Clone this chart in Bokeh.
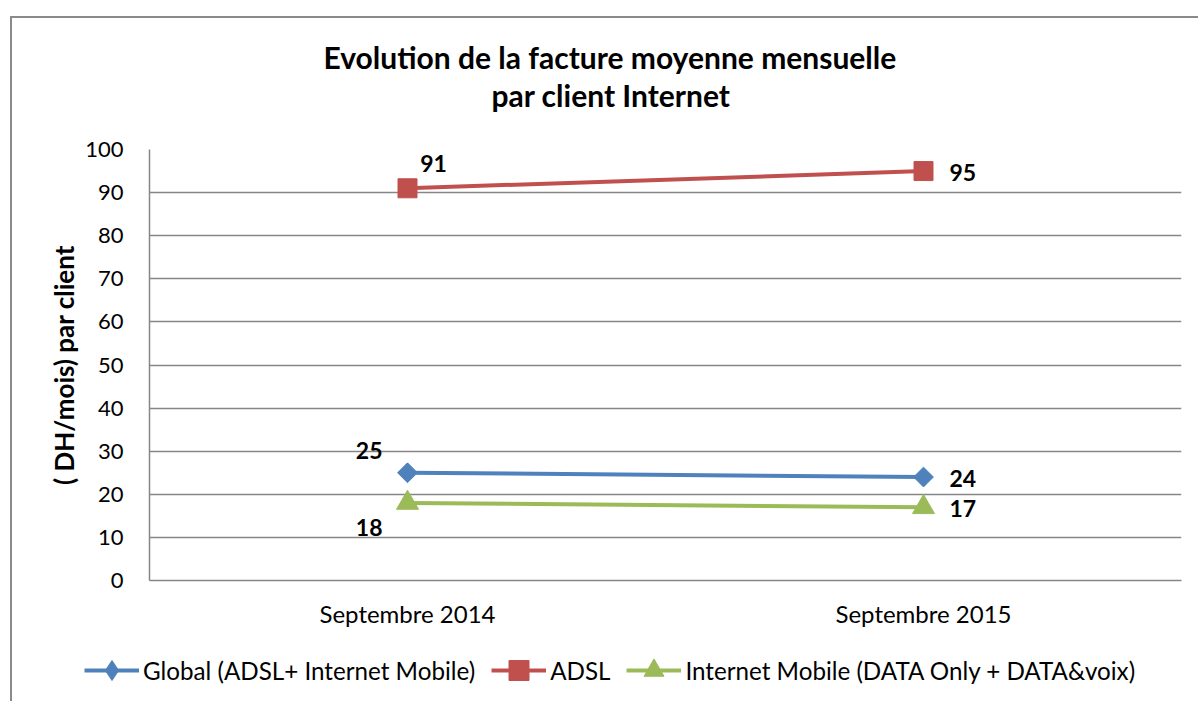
import math
from bokeh.plotting import figure
from bokeh.layouts import column
from bokeh.models import (Range1d, FactorRange, Legend, LegendItem, Title,
                          ColumnDataSource, SingleIntervalTicker)
from bokeh.embed import file_html
from bokeh.resources import INLINE
from bokeh.core.properties import value

# ---- data ----
categories = ["Septembre 2014", "Septembre 2015"]
global_vals = [25, 24]
adsl_vals = [91, 95]
mobile_vals = [18, 17]
series_names = ["Global (ADSL+ Internet Mobile)", "ADSL",
                "Internet Mobile (DATA Only + DATA&voix)"]
title_lines = ["Evolution de la facture moyenne mensuelle", "par client Internet"]
y_label = "( DH/mois) par client"

# ---- styles ----
FONT = "Lato"
GRAY = "#868686"
BORDER = "#8a8a8a"
BLUE = "#4F81BD"
RED = "#C0504D"
GREEN = "#9BBB59"
MAIN_H = 641
LEG_H = 60

p = figure(width=1198, height=MAIN_H,
           x_range=FactorRange(*categories), y_range=Range1d(0, 100),
           output_backend="svg", toolbar_location=None,
           min_border_left=149, min_border_right=17,
           min_border_top=149, min_border_bottom=MAIN_H - 580)
p.title.text = ""
p.title.standoff = 0
p.title.text_font_size = "1px"
p.outline_line_color = None
p.border_fill_color = None
p.background_fill_color = "white"
p.styles = {"box-shadow": f"inset 10px 16px 0 0 #ffffff, inset 12px 18px 0 0 {BORDER}"}

# axes
p.yaxis.ticker = SingleIntervalTicker(interval=10, num_minor_ticks=0)
for ax in (p.xaxis[0], p.yaxis[0]):
    ax.axis_line_color = GRAY
    ax.axis_line_width = 1.5
    ax.major_tick_out = 0
    ax.major_tick_in = 0
    ax.minor_tick_out = 0
    ax.minor_tick_in = 0
    ax.major_label_text_font = FONT
    ax.major_label_text_color = "black"
p.yaxis.major_label_text_font_size = "22px"
p.xaxis.major_label_text_font_size = "24px"
p.yaxis.major_label_standoff = 26
p.xaxis.major_label_standoff = 18
p.yaxis.axis_label = y_label
p.yaxis.axis_label_text_font = FONT
p.yaxis.axis_label_text_font_size = "26px"
p.yaxis.axis_label_text_font_style = "bold"
p.yaxis.axis_label_text_color = "black"
p.yaxis.axis_label_standoff = 2

p.xgrid.grid_line_color = None
p.ygrid.grid_line_color = GRAY
p.ygrid.grid_line_width = 1.5

# series: (values, colour, plot marker, angle, size, legend marker)
series = [(global_vals, BLUE, "square", math.pi / 4, 14, "diamond"),
          (adsl_vals, RED, "square", 0, 19, "square"),
          (mobile_vals, GREEN, "triangle", 0, 22, "triangle")]
for vals, color, marker, ang, sz, _ in series:
    p.line(categories, vals, line_color=color, line_width=4)
    p.scatter(categories, vals, marker=marker, angle=ang, size=sz,
              fill_color=color, line_color=color)

# data labels
lab_dx = [-25, 26, 26, 26, -25, 26]
lab_dy = [-22, 1, -25, 1, 25, 1]
lab_align = ["right", "left", "center", "left", "right", "left"]
xs = categories * 3
ys = global_vals + adsl_vals + mobile_vals
src = ColumnDataSource(dict(x=xs, y=ys, t=[str(v) for v in ys],
                            dx=lab_dx, dy=lab_dy, al=lab_align))
p.text(x="x", y="y", text="t", x_offset="dx", y_offset="dy", text_align="al",
       text_baseline="middle", text_font=value(FONT), text_font_style="bold",
       text_font_size="23px", text_color="black", source=src)

# titles (first added = nearest to frame)
p.add_layout(Title(text=" ", text_font_size="31px", standoff=0), "above")
p.add_layout(Title(text=title_lines[1], align="left", offset=342, standoff=0,
                   text_font=FONT, text_font_style="bold", text_font_size="30px",
                   text_color="black"), "above")
p.add_layout(Title(text=title_lines[0], align="left", offset=174, standoff=0,
                   text_font=FONT, text_font_style="bold", text_font_size="30px",
                   text_color="black"), "above")

# legend strip (separate figure so that the legend is not clipped);
# the same series are plotted there outside its visible y range
lf = figure(width=1198, height=LEG_H, title=None, output_backend="svg",
            toolbar_location=None, x_axis_type=None, y_axis_type=None,
            x_range=FactorRange(*categories), y_range=Range1d(1000, 1001),
            min_border=0)
lf.outline_line_color = None
lf.border_fill_color = None
lf.background_fill_color = None
lf.xgrid.grid_line_color = None
lf.ygrid.grid_line_color = None
lf.styles = {"box-shadow": f"inset 10px 0 0 0 #ffffff, inset 12px 0 0 0 {BORDER}"}

leg_x = 84
if "frame_align" in lf.properties():
    lf.frame_align = False
    p.frame_align = False
else:
    leg_x = 84 - 149

items = []
for (vals, color, marker, ang, sz, lmarker), name in zip(series, series_names):
    rl = lf.line(categories, vals, line_color=color, line_width=4)
    rm = lf.scatter(categories, vals, marker=lmarker, size=sz,
                    fill_color=color, line_color=color)
    items.append(LegendItem(label=name, renderers=[rl, rm]))
legend = Legend(items=items, orientation="horizontal", location=(leg_x, 6),
                padding=0, margin=0, spacing=16, label_standoff=4,
                glyph_width=55, glyph_height=50,
                border_line_color=None, background_fill_alpha=0,
                label_text_font=FONT, label_text_font_size="24.2px",
                label_text_baseline="middle", label_text_color="black")
lf.add_layout(legend, "center")

layout = column(p, lf, spacing=0)
open("out.html", "w").write(file_html(layout, INLINE))
